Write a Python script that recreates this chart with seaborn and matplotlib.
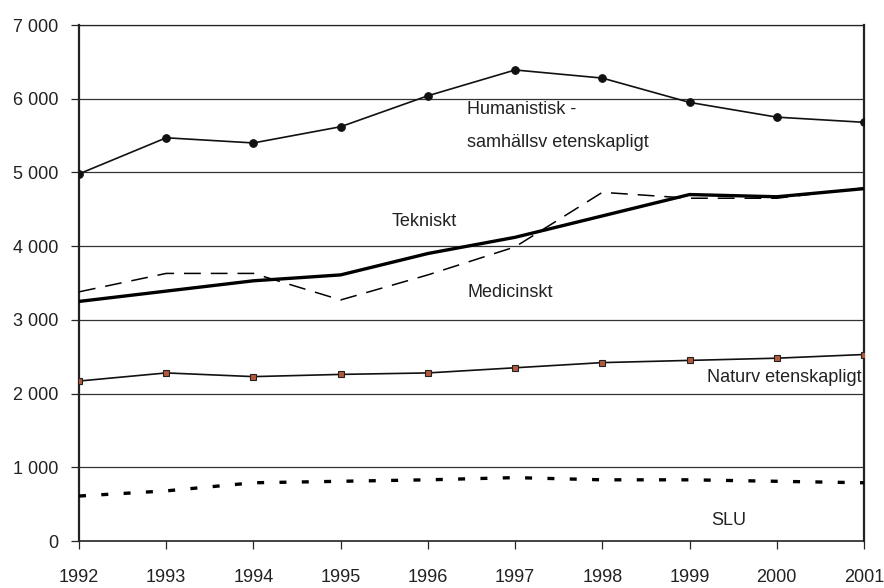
import pandas as pd
import numpy as np
import seaborn as sns
import matplotlib.pyplot as plt

years = [1992, 1993, 1994, 1995, 1996, 1997, 1998, 1999, 2000, 2001]
humanistisk = [4980, 5470, 5400, 5620, 6040, 6390, 6280, 5950, 5750, 5680]
tekniskt = [3250, 3390, 3530, 3610, 3900, 4120, 4410, 4700, 4670, 4780]
medicinskt = [3380, 3630, 3630, 3270, 3610, 3990, 4730, 4650, 4650, 4790]
naturvetenskapligt = [2170, 2280, 2230, 2260, 2280, 2350, 2420, 2450, 2480, 2530]
slu = [610, 680, 790, 810, 830, 860, 830, 830, 810, 790]
y_ticks = [0, 1000, 2000, 3000, 4000, 5000, 6000, 7000]
y_labels = ['0', '1 000', '2 000', '3 000', '4 000', '5 000', '6 000', '7 000']

sns.set_style('white')
plt.rcParams['font.family'] = ['Liberation Sans', 'DejaVu Sans']

df = pd.DataFrame({'year': years, 'hum': humanistisk, 'tek': tekniskt,
                   'med': medicinskt, 'nat': naturvetenskapligt, 'slu': slu})

fig = plt.figure(figsize=(8.84, 5.88), dpi=100)
ax = fig.add_axes([79 / 884, 1 - 541 / 588, 785 / 884, 516 / 588])

for v in y_ticks[1:]:
    ax.axhline(v, color='#333333', lw=0.9, zorder=0)

# SLU - short thick dashes
sns.lineplot(data=df, x='year', y='slu', ax=ax, color='black', lw=2.4, zorder=3)
ax.lines[-1].set_dashes((2.1, 4.6))
ax.lines[-1].set_dash_capstyle('butt')
# Medicinskt - thin dashes
sns.lineplot(data=df, x='year', y='med', ax=ax, color='black', lw=1.1, zorder=3)
ax.lines[-1].set_dashes((11, 6.5))
sns.lineplot(data=df, x='year', y='tek', ax=ax, color='black', lw=2.4, zorder=4)
sns.lineplot(data=df, x='year', y='nat', ax=ax, color='#111111', lw=1.2,
             marker='s', markersize=5, markerfacecolor='#b35a3a',
             markeredgecolor='#222222', markeredgewidth=0.8, zorder=5)
sns.lineplot(data=df, x='year', y='hum', ax=ax, color='#111111', lw=1.2,
             marker='o', markersize=5.5, markerfacecolor='#111111',
             markeredgecolor='#111111', zorder=5)

txt = dict(fontsize=13, color='#222222')
ax.text(1996.45, 5860, 'Humanistisk -', va='center', **txt)
ax.text(1996.45, 5400, 'samhällsv etenskapligt', va='center', **txt)
ax.text(1995.58, 4340, 'Tekniskt', va='center', **txt)
ax.text(1996.45, 3370, 'Medicinskt', va='center', **txt)
ax.text(2000.97, 2220, 'Naturv etenskapligt', va='center', ha='right', **txt)
ax.text(1999.25, 275, 'SLU', va='center', **txt)

ax.set_xlim(1992, 2001)
ax.set_ylim(0, 7000)
ax.set_xticks(years)
ax.set_xticklabels([str(y) for y in years], fontsize=13, color='#222222')
ax.set_yticks(y_ticks)
ax.set_yticklabels(y_labels, fontsize=13, color='#222222')
ax.set_xlabel('')
ax.set_ylabel('')
ax.tick_params(axis='x', direction='out', length=5.5, width=0.9, pad=15, bottom=True)
ax.tick_params(axis='y', direction='out', length=5.8, width=0.9, pad=9, left=True)
for side in ['left', 'right', 'bottom', 'top']:
    ax.spines[side].set_visible(True)
    ax.spines[side].set_color('#222222')
ax.spines['left'].set_linewidth(1.6)
ax.spines['right'].set_linewidth(1.6)
ax.spines['bottom'].set_linewidth(1.2)
ax.spines['top'].set_linewidth(0.9)

fig.savefig('out.png', dpi=100)
